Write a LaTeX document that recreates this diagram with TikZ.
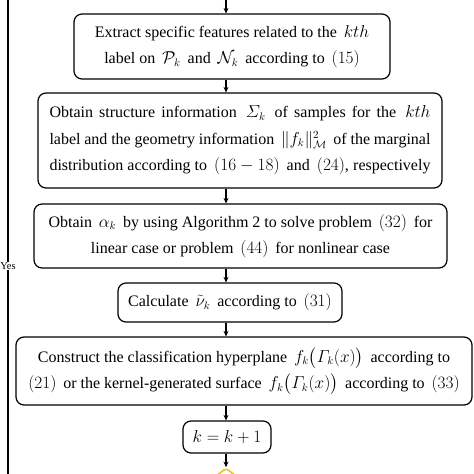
\documentclass[tikz,border=0pt]{standalone}
\usepackage{amsmath}
\usepackage{fontspec}
\setmainfont{Liberation Serif}
\usetikzlibrary{arrows.meta,shapes.geometric}
\definecolor{yel}{HTML}{F2C214}
\newcommand{\ms}{\hspace{0.18em}}
\begin{document}
\begin{tikzpicture}[x=1pt,y=-1pt,
  box/.style={draw, rounded corners=8pt, line width=1.2pt, inner sep=0pt, align=center,
    font=\fontsize{16}{26.5}\selectfont},
  arr/.style={-{Stealth[length=5.5pt,width=5pt]}, line width=1.1pt},
  yeslab/.style={fill=white, inner sep=0.3pt, font=\fontsize{10.5}{11}\selectfont},
]
\useasboundingbox (0,0) rectangle (474,474);
\fill[white] (0,0) rectangle (474,474);
\coordinate (ax) at (226,0);
\coordinate (top) at (226,-2);
\coordinate (lt) at (8,-2);
\coordinate (lb) at (8,476);

\node[box, minimum width=316pt, minimum height=65pt] (b1) at (232,46.5)
  {Extract specific features related to the \ms$kth$\\
   label on \ms$\mathcal{P}_k$\ms{} and \ms$\mathcal{N}_k$\ms{} according to \ms$(15)$};

\node[box, minimum width=404pt, minimum height=95pt] (b2) at (240,140.5)
  {\makebox[381pt][s]{Obtain structure information \ms$\varSigma_k$\ms{} of samples for the \ms$kth$}\\
   \makebox[381pt][s]{label and the geometry information \ms$\|f_k\|_{\mathcal{M}}^2$\ms{} of the marginal}\\
   \makebox[381pt][s]{distribution according to \ms$(16-18)$\ms{} and \ms$(24)$, respectively}};

\node[box, minimum width=413pt, minimum height=64pt] (b3) at (240.5,236)
  {Obtain \ms$\alpha_k$\ms{} by using Algorithm 2 to solve problem \ms$(32)$\ms{} for\\
   linear case or problem \ms$(44)$\ms{} for nonlinear case};

\node[box, minimum width=224pt, minimum height=39pt] (b4) at (230,302.5)
  {Calculate \ms$\tilde{\nu}_k$\ms{} according to \ms$(31)$};

\node[box, minimum width=456pt, minimum height=68pt] (b5) at (244,371)
  {Construct the classification hyperplane \ms$f_k\bigl(\varGamma_k(x)\bigr)$\ms{} according to\\
   $(21)$\ms{} or the kernel-generated surface \ms$f_k\bigl(\varGamma_k(x)\bigr)$\ms{} according to \ms$(33)$};

\node[box, minimum width=88pt, minimum height=32pt] (b6) at (227,437)
  {$k=k+1$};

\node[diamond, draw=yel, line width=1.6pt, rounded corners=2pt, minimum width=90pt,
  minimum height=70pt, inner sep=0pt] (d) at (226,503) {};

\draw[arr] (top) -- (b1.north -| ax);
\draw[arr] (b1.south -| ax) -- (b2.north -| ax);
\draw[arr] (b2.south -| ax) -- (b3.north -| ax);
\draw[arr] (b3.south -| ax) -- (b4.north -| ax);
\draw[arr] (b4.south -| ax) -- (b5.north -| ax);
\draw[arr] (b5.south -| ax) -- (b6.north -| ax);
\draw[arr] (b6.south -| ax) -- (d.north);

\draw[line width=1.4pt] (lt) -- node[yeslab, pos=0.561] (yes) {Yes} (lb);
\end{tikzpicture}
\end{document}
